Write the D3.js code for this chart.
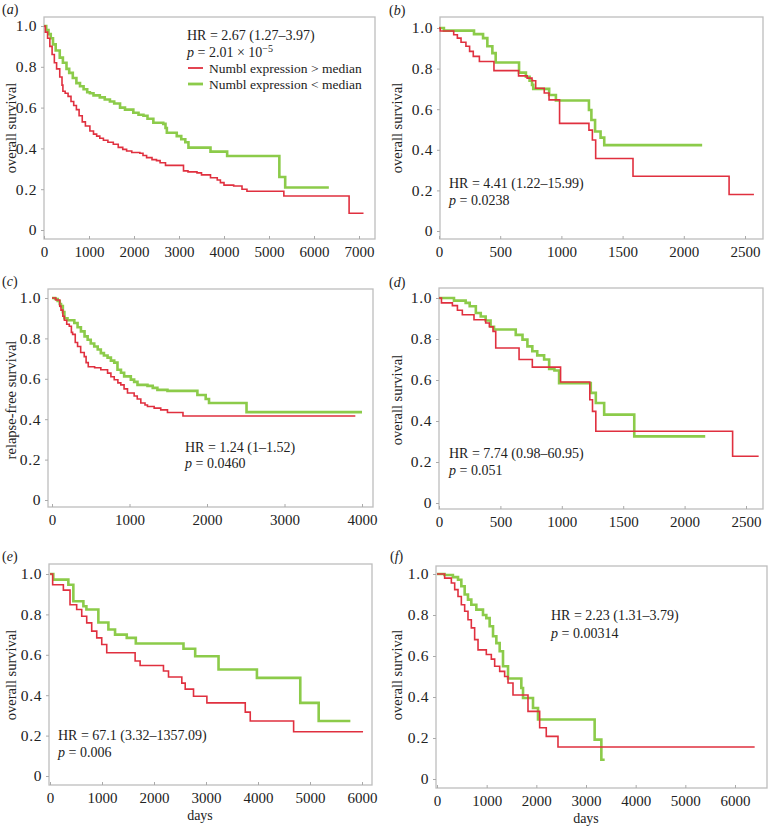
<!DOCTYPE html>
<html>
<head>
<meta charset="utf-8">
<script src="https://cdn.jsdelivr.net/npm/d3@7"></script>
<style>
  html, body { margin: 0; padding: 0; background: #fff; }
  svg { display: block; }
  text { font-family: "Liberation Serif", "DejaVu Serif", serif; fill: #222; }
</style>
</head>
<body>
<svg id="chart" width="772" height="828"></svg>
<script>
// ---------------- DATA ----------------
const panelLetters = ["a", "b", "c", "d", "e", "f"];
const yAxisTitles = ["overall survival", "overall survival", "relapse-free survival",
                     "overall survival", "overall survival", "overall survival"];
const seriesNames = ["Numbl expression > median", "Numbl expression < median"];
const yTicks = [0, 0.2, 0.4, 0.6, 0.8, 1.0];
const yTickLabels = ["0", "0.2", "0.4", "0.6", "0.8", "1.0"];
const xTicksA = [0, 1000, 2000, 3000, 4000, 5000, 6000, 7000];
const xTicksB = [0, 500, 1000, 1500, 2000, 2500];
const xTicksC = [0, 1000, 2000, 3000, 4000];
const xTicksD = [0, 500, 1000, 1500, 2000, 2500];
const xTicksE = [0, 1000, 2000, 3000, 4000, 5000, 6000];
const xTicksF = [0, 1000, 2000, 3000, 4000, 5000, 6000];
const hrTexts = ["HR = 2.67 (1.27–3.97)", "HR = 4.41 (1.22–15.99)", "HR = 1.24 (1–1.52)",
                 "HR = 7.74 (0.98–60.95)", "HR = 67.1 (3.32–1357.09)", "HR = 2.23 (1.31–3.79)"];
const pTexts = ["2.01 × 10", "0.0238", "0.0460", "0.051", "0.006", "0.00314"];
const pExponents = ["−5", "", "", "", "", ""];

// Kaplan–Meier step points [days, survival]
const aRed = [[0,1],[30,0.97],[80,0.94],[130,0.9],[180,0.86],[230,0.82],[280,0.79],[350,0.75],[400,0.71],[420,0.68],[470,0.67],[535,0.655],[600,0.63],[660,0.61],[720,0.59],[780,0.56],[850,0.53],[920,0.51],[1020,0.485],[1100,0.47],[1170,0.46],[1240,0.45],[1320,0.44],[1420,0.43],[1540,0.42],[1650,0.405],[1750,0.395],[1836,0.387],[1950,0.38],[2130,0.376],[2200,0.365],[2280,0.355],[2400,0.345],[2500,0.34],[2580,0.33],[2700,0.317],[3100,0.29],[3200,0.285],[3400,0.28],[3500,0.27],[3700,0.256],[3850,0.245],[3920,0.232],[4000,0.22],[4215,0.216],[4400,0.2],[4510,0.19],[5330,0.167],[6780,0.082],[7100,0.082]];
const aGreen = [[0,1],[50,0.98],[100,0.96],[150,0.94],[200,0.91],[260,0.88],[350,0.845],[420,0.82],[500,0.79],[560,0.77],[640,0.745],[720,0.72],[800,0.705],[880,0.69],[960,0.675],[1020,0.67],[1100,0.66],[1240,0.65],[1350,0.64],[1465,0.63],[1560,0.62],[1690,0.6],[1800,0.59],[1985,0.575],[2100,0.565],[2210,0.56],[2300,0.545],[2430,0.526],[2650,0.52],[2700,0.5],[2730,0.477],[2950,0.46],[3050,0.445],[3140,0.43],[3210,0.404],[3700,0.384],[4070,0.363],[5230,0.26],[5360,0.208],[6330,0.208]];
const bRed = [[0,1],[10,0.985],[120,0.967],[150,0.95],[180,0.93],[220,0.91],[250,0.885],[280,0.86],[330,0.835],[449,0.79],[650,0.764],[720,0.753],[760,0.74],[790,0.703],[860,0.68],[899,0.646],[985,0.53],[1225,0.497],[1253,0.448],[1280,0.357],[1585,0.27],[2370,0.18],[2573,0.18]];
const bGreen = [[0,1],[40,0.987],[286,0.97],[360,0.95],[395,0.91],[436,0.876],[463,0.83],[654,0.78],[710,0.76],[740,0.74],[760,0.72],[770,0.7],[900,0.67],[955,0.643],[1225,0.596],[1245,0.547],[1275,0.49],[1320,0.46],[1350,0.423],[2150,0.423]];
const cRed = [[0,1],[50,0.99],[100,0.96],[116,0.94],[140,0.91],[160,0.89],[190,0.87],[223,0.86],[250,0.83],[266,0.82],[300,0.78],[330,0.76],[370,0.73],[416,0.71],[440,0.68],[468,0.66],[550,0.655],[630,0.645],[717,0.628],[760,0.61],[803,0.595],[850,0.58],[888,0.57],[930,0.55],[974,0.53],[1060,0.515],[1100,0.5],[1146,0.48],[1200,0.47],[1232,0.463],[1318,0.455],[1403,0.446],[1490,0.433],[1690,0.416],[3914,0.416]];
const cGreen = [[0,1],[40,0.995],[73,0.985],[100,0.97],[116,0.96],[140,0.93],[160,0.9],[200,0.89],[288,0.876],[330,0.855],[373,0.835],[420,0.81],[460,0.793],[500,0.775],[545,0.76],[590,0.745],[630,0.727],[670,0.715],[717,0.705],[760,0.69],[803,0.68],[845,0.645],[890,0.63],[931,0.612],[1017,0.596],[1060,0.585],[1103,0.57],[1232,0.565],[1300,0.555],[1360,0.545],[1490,0.54],[1876,0.52],[1983,0.5],[2026,0.48],[2510,0.435],[4000,0.435]];
const dRed = [[0,1],[20,0.976],[109,0.963],[150,0.94],[190,0.918],[285,0.894],[380,0.878],[410,0.86],[440,0.837],[462,0.756],[652,0.70],[760,0.663],[990,0.59],[1228,0.504],[1250,0.447],[1277,0.35],[2391,0.228],[2603,0.228]];
const dGreen = [[0,1],[122,0.987],[217,0.976],[250,0.96],[300,0.927],[340,0.91],[380,0.89],[420,0.86],[448,0.846],[625,0.82],[680,0.797],[720,0.764],[760,0.74],[800,0.72],[856,0.70],[897,0.654],[940,0.646],[978,0.585],[1236,0.537],[1277,0.488],[1345,0.431],[1590,0.325],[2168,0.325]];
const eRed = [[0,1],[51,0.947],[257,0.92],[385,0.848],[513,0.824],[610,0.791],[706,0.758],[802,0.717],[899,0.684],[995,0.651],[1091,0.61],[1637,0.569],[1733,0.547],[2182,0.52],[2279,0.49],[2535,0.46],[2600,0.43],[2760,0.395],[3017,0.362],[3755,0.316],[3851,0.272],[4685,0.219],[6020,0.219]];
const eGreen = [[0,1],[64,0.972],[353,0.947],[449,0.865],[642,0.84],[700,0.824],[930,0.76],[1123,0.725],[1251,0.7],[1476,0.684],[1650,0.656],[2567,0.63],[2792,0.593],[3241,0.527],[3979,0.486],[4813,0.362],[5167,0.272],[5776,0.272]];
const fRed = [[0,1],[154,0.98],[289,0.956],[356,0.924],[423,0.89],[490,0.85],[557,0.818],[624,0.777],[691,0.737],[758,0.68],[826,0.63],[993,0.607],[1094,0.585],[1161,0.55],[1262,0.525],[1362,0.5],[1430,0.468],[1530,0.41],[1832,0.33],[2067,0.25],[2200,0.208],[2436,0.156],[6396,0.156]];
const fGreen = [[0,1],[150,0.995],[320,0.985],[423,0.972],[490,0.94],[557,0.9],[624,0.875],[691,0.85],[792,0.826],[926,0.8],[993,0.785],[1060,0.745],[1128,0.696],[1195,0.663],[1262,0.623],[1329,0.55],[1430,0.49],[1698,0.444],[1732,0.395],[1933,0.346],[2034,0.29],[3174,0.192],[3309,0.094],[3376,0.094]];

const redSeries = [aRed, bRed, cRed, dRed, eRed, fRed];
const greenSeries = [aGreen, bGreen, cGreen, dGreen, eGreen, fGreen];
const xTickSets = [xTicksA, xTicksB, xTicksC, xTicksD, xTicksE, xTicksF];

// ---------------- LAYOUT ----------------
const layout = [
  {frame:[44,375,17,239],  x0:[0,44],  x1:[7000,359], y0:230, y1:26,  lab:[2,9],    hr:[187,35],  p:[187,52],  leg:true, yt:[11,128]},
  {frame:[440,763,17,239], x0:[0,439], x1:[2500,745], y0:231, y1:28,  lab:[389,10], hr:[449,183], p:[449,200], yt:[397,128]},
  {frame:[48,373,289,507], x0:[0,52],  x1:[4000,362], y0:500, y1:298, lab:[2,281],  hr:[185,447], p:[185,463], yt:[11,400]},
  {frame:[439,763,288,509],x0:[0,439], x1:[2500,746], y0:503, y1:298, lab:[389,282],hr:[449,453], p:[449,470], yt:[397,400]},
  {frame:[49,372,564,785], x0:[0,50],  x1:[6000,362], y0:776, y1:574, lab:[2,556],  hr:[58,735],  p:[58,752],  yt:[11,675], days:[200,815]},
  {frame:[436,767,566,788],x0:[0,437], x1:[6000,735], y0:779, y1:574, lab:[390,556],hr:[551,615], p:[551,633], yt:[397,675], days:[586,818]}
];

const RED = "#e0303f";
const GREEN = "#8ccb4a";

const svg = d3.select("#chart");
svg.append("rect").attr("width", 772).attr("height", 828).attr("fill", "#fff");

layout.forEach((L, i) => {
  const g = svg.append("g");
  const [fl, fr, ft, fb] = L.frame;
  const pxPerUnit = (L.x1[1] - L.x0[1]) / (L.x1[0] - L.x0[0]);
  const xMin = L.x0[0] - (L.x0[1] - fl) / pxPerUnit;
  const xMax = L.x0[0] + (fr - L.x0[1]) / pxPerUnit;
  const x = d3.scaleLinear().domain([xMin, xMax]).range([fl, fr]);
  const ppy = (L.y0 - L.y1);
  const y = d3.scaleLinear().domain([(L.y0 - fb) / ppy, (L.y0 - ft) / ppy]).range([fb, ft]);

  // frame
  g.append("rect").attr("x", fl).attr("y", ft).attr("width", fr - fl).attr("height", fb - ft)
    .attr("fill", "#fff").attr("stroke", "#bdbdbd").attr("stroke-width", 1.3);

  // axes
  const yAxis = d3.axisLeft(y).tickValues(yTicks).tickFormat((d, k) => yTickLabels[k]).tickSize(3).tickPadding(4);
  const ya = g.append("g").attr("transform", `translate(${fl},0)`).call(yAxis);
  const xAxis = d3.axisBottom(x).tickValues(xTickSets[i]).tickFormat(d3.format("d")).tickSize(3).tickPadding(4);
  const xa = g.append("g").attr("transform", `translate(0,${fb})`).call(xAxis);
  [ya, xa].forEach(a => {
    a.select(".domain").remove();
    a.selectAll(".tick line").attr("stroke", "#aaa");
    a.selectAll(".tick text").attr("font-size", 15).attr("font-family", "Liberation Serif").attr("fill", "#222");
  });
  ya.selectAll(".tick text").attr("font-size", 15.5).attr("letter-spacing", "0.6px");
  xa.selectAll(".tick line").attr("y1", -3).attr("y2", 0);

  // y-axis title
  g.append("text").attr("transform", `translate(${L.yt[0]},${L.yt[1]}) rotate(-90)`)
    .attr("text-anchor", "middle").attr("dy", "0.35em").attr("font-size", 14.5).text(yAxisTitles[i]);

  // panel letter
  const pl = g.append("text").attr("x", L.lab[0]).attr("y", L.lab[1]).attr("dy", "0.35em").attr("font-size", 14);
  pl.append("tspan").text("(");
  pl.append("tspan").attr("font-style", "italic").text(panelLetters[i]);
  pl.append("tspan").text(")");

  // curves
  const line = d3.line().x(d => x(d[0])).y(d => y(d[1])).curve(d3.curveStepAfter);
  g.append("path").datum(greenSeries[i]).attr("d", line).attr("fill", "none")
    .attr("stroke", GREEN).attr("stroke-width", 2.6);
  g.append("path").datum(redSeries[i]).attr("d", line).attr("fill", "none")
    .attr("stroke", RED).attr("stroke-width", 1.6);

  // annotations
  g.append("text").attr("x", L.hr[0]).attr("y", L.hr[1]).attr("dy", "0.35em").attr("font-size", 14)
    .text(hrTexts[i]);
  const pt = g.append("text").attr("x", L.p[0]).attr("y", L.p[1]).attr("dy", "0.35em").attr("font-size", 14);
  pt.append("tspan").attr("font-style", "italic").text("p");
  pt.append("tspan").text(" = " + pTexts[i]);
  if (pExponents[i]) {
    pt.append("tspan").attr("dy", "-0.45em").attr("font-size", 10).text(pExponents[i]);
  }

  // legend (panel a)
  if (L.leg) {
    const colors = [RED, GREEN];
    const widths = [1.8, 2.8];
    [68, 84].forEach((ly, k) => {
      g.append("line").attr("x1", 188).attr("x2", 203).attr("y1", ly).attr("y2", ly)
        .attr("stroke", colors[k]).attr("stroke-width", widths[k]);
      g.append("text").attr("x", 209).attr("y", ly).attr("dy", "0.35em").attr("font-size", 13.5).text(seriesNames[k]);
    });
  }

  if (L.days) {
    g.append("text").attr("x", L.days[0]).attr("y", L.days[1]).attr("dy", "0.35em")
      .attr("text-anchor", "middle").attr("font-size", 14).text("days");
  }
});
</script>
</body>
</html>
